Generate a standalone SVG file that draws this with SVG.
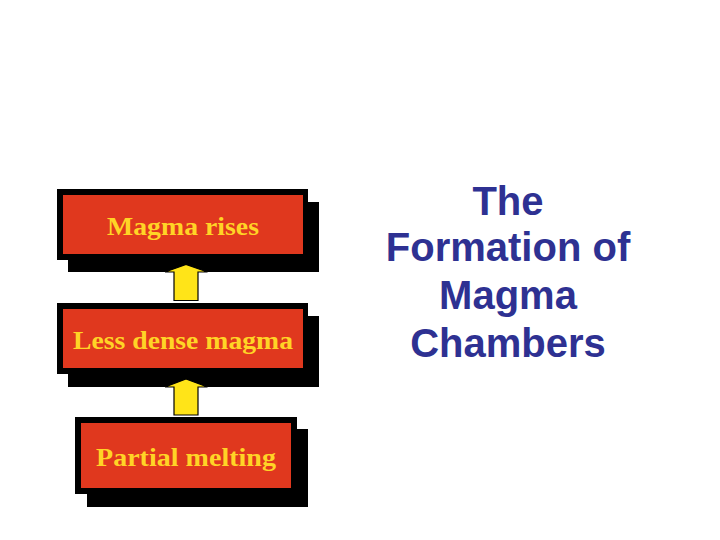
<svg xmlns="http://www.w3.org/2000/svg" width="720" height="540" viewBox="0 0 720 540">
<style>
.shadow{fill:#000}
.frame{fill:#000}
.box{fill:#E0381E}
.lbl{font-family:"Liberation Serif","Times New Roman",serif;font-weight:bold;font-size:26px;fill:#FFD426;text-anchor:middle}
.arrow{fill:#FFE418;stroke:#000;stroke-width:1.2}
.title{font-family:"Liberation Sans",Arial,sans-serif;font-weight:bold;font-size:40px;fill:#2E3192;text-anchor:middle}
</style>
<rect width="720" height="540" fill="#fff"/>
<g id="node-magma-rises">
<rect class="shadow" x="68" y="202" width="251" height="70"/>
<rect class="frame" x="57" y="189" width="251" height="71"/>
<rect class="box" x="63" y="195" width="240" height="59"/>
<text class="lbl" x="183" y="235" textLength="152" lengthAdjust="spacingAndGlyphs">Magma rises</text>
</g>
<g id="node-less-dense">
<rect class="shadow" x="68" y="316" width="251" height="71"/>
<rect class="frame" x="57" y="303" width="251" height="71"/>
<rect class="box" x="63" y="309" width="240" height="59"/>
<text class="lbl" x="183" y="349" textLength="220" lengthAdjust="spacingAndGlyphs">Less dense magma</text>
</g>
<g id="node-partial-melting">
<rect class="shadow" x="87" y="429" width="221" height="78"/>
<rect class="frame" x="75" y="417" width="222" height="77"/>
<rect class="box" x="81" y="423" width="210" height="65"/>
<text class="lbl" x="186" y="466" textLength="180" lengthAdjust="spacingAndGlyphs">Partial melting</text>
</g>
<g id="connectors">
<path class="arrow" d="M174,300.5 L174,272 L165,272 L186,264.5 L207.5,272 L198,272 L198,300.5 Z"/>
<path class="arrow" d="M174,415 L174,387 L165,387 L186,379 L207.5,387 L198,387 L198,415 Z"/>
</g>
<g id="title">
<text class="title" x="508" y="215">The</text>
<text class="title" x="508" y="261">Formation of</text>
<text class="title" x="508" y="309">Magma</text>
<text class="title" x="508" y="357">Chambers</text>
</g>
</svg>
